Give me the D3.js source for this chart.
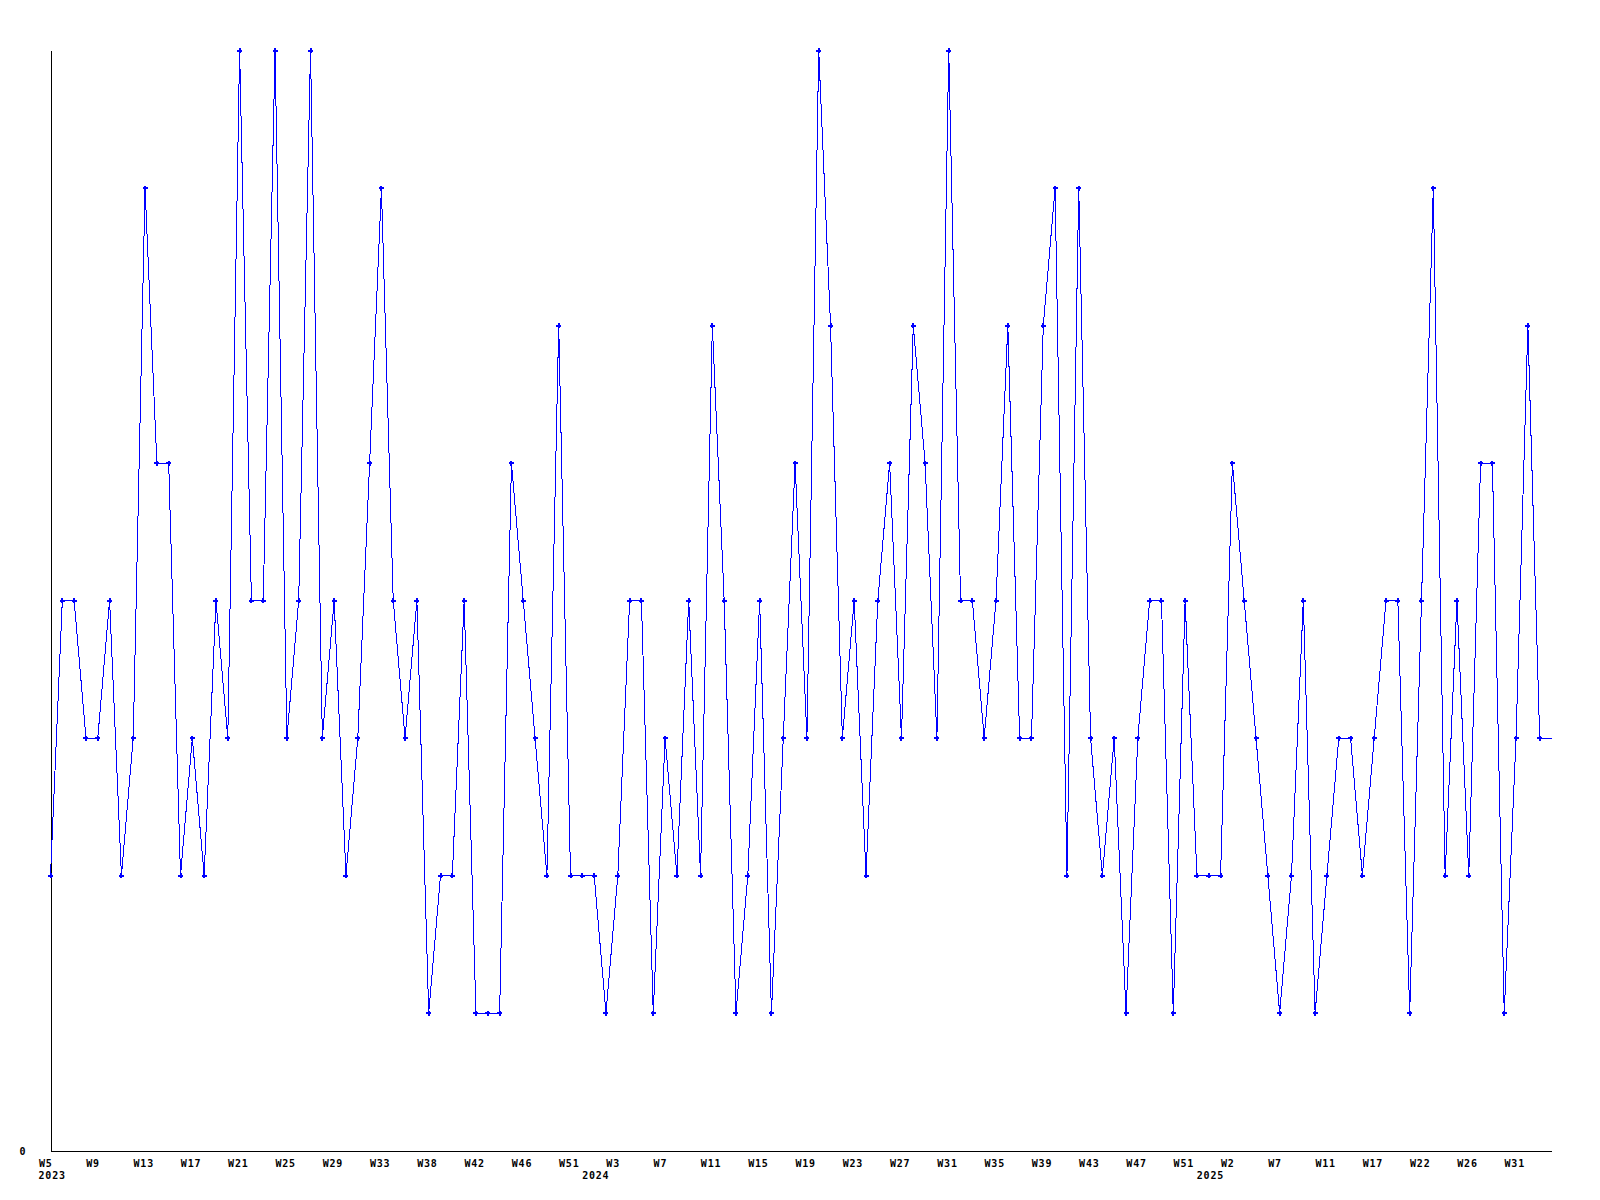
<!DOCTYPE html>
<html>
<head>
<meta charset="utf-8">
<script src="https://cdn.jsdelivr.net/npm/d3@7"></script>
<style>
  html, body { margin: 0; padding: 0; background: #ffffff; }
  svg { display: block; }
  text { font-family: "DejaVu Sans Mono", monospace; font-weight: bold; font-size: 10px; letter-spacing: 0.8px; fill: #000; }
</style>
</head>
<body>
<script>
// ---- data ----
const weekLabels = [
  "W5","W6","W7","W8","W9","W10","W11","W12","W13","W14","W15","W16","W17","W18","W19","W20",
  "W21","W22","W23","W24","W25","W26","W27","W28","W29","W30","W31","W32","W33","W34","W35","W37",
  "W38","W39","W40","W41","W42","W43","W44","W45","W46","W47","W48","W50","W51","W52","W1","W2",
  "W3","W4","W5","W6","W7","W8","W9","W10","W11","W12","W13","W14","W15","W16","W17","W18",
  "W19","W20","W21","W22","W23","W24","W25","W26","W27","W28","W29","W30","W31","W32","W33","W34",
  "W35","W36","W37","W38","W39","W40","W41","W42","W43","W44","W45","W46","W47","W48","W49","W50",
  "W51","W52","W0","W1","W2","W3","W4","W6","W7","W8","W9","W10","W11","W12","W14","W15",
  "W17","W18","W19","W21","W22","W23","W24","W25","W26","W27","W28","W30","W31","W32","W33","W34"
];
const values = [
  2,4,4,3,3,4,2,3,7,5,
  5,2,3,2,4,3,8,4,4,8,
  3,4,8,3,4,2,3,5,7,4,
  3,4,1,2,2,4,1,1,1,5,
  4,3,2,6,2,2,2,1,2,4,
  4,1,3,2,4,2,6,4,1,2,
  4,1,3,5,3,8,6,3,4,2,
  4,5,3,6,5,3,8,4,4,3,
  4,6,3,3,6,7,2,7,3,2,
  3,1,3,4,4,1,4,2,2,2,
  5,4,3,2,1,2,4,1,2,3,
  3,2,3,4,4,1,4,7,2,4,
  2,5,5,1,3,6,3,3
];
const tickStep = 4;
const yearLabels = ["2023", "2024", "2025"];
const yearStartIndex = [0, 46, 98];
const yTicks = [0];
const yMax = 8;

// ---- layout ----
const W = 1600, H = 1200;
const plotLeft = 50, plotRight = 1551, plotTop = 50, plotBottom = 1150;

const svg = d3.select("body").append("svg").attr("width", W).attr("height", H);

const x = d3.scaleLinear().domain([0, values.length - 1]).range([plotLeft, plotRight]);
const y = d3.scaleLinear().domain([0, yMax]).range([plotBottom, plotTop]);

const g = svg.append("g").attr("transform", "translate(0.5,0.5)");

// x axis
const tickIdx = d3.range(0, values.length, tickStep);
const xAxis = g.append("g")
  .attr("transform", `translate(0,${plotBottom})`)
  .call(d3.axisBottom(x).tickValues(tickIdx).tickSize(0).tickSizeOuter(0)
        .tickFormat(i => weekLabels[i]));
xAxis.attr("font-family", null).attr("font-size", null);
xAxis.select(".domain").attr("stroke", "#000").attr("shape-rendering", "crispEdges");
xAxis.selectAll(".tick text")
  .attr("text-anchor", "start")
  .attr("x", -12)
  .attr("y", 16)
  .attr("dy", null);

// year labels
g.append("g").selectAll("text.year")
  .data(yearStartIndex)
  .join("text")
  .attr("class", "year")
  .attr("x", (d) => x(d) - 12)
  .attr("y", plotBottom + 28)
  .text((d, i) => yearLabels[i]);

// y axis
const yAxis = g.append("g")
  .attr("transform", `translate(${plotLeft},0)`)
  .call(d3.axisLeft(y).tickValues(yTicks).tickSize(0).tickSizeOuter(0).tickFormat(d3.format("d")));
yAxis.attr("font-family", null).attr("font-size", null);
yAxis.select(".domain").attr("stroke", "#000").attr("shape-rendering", "crispEdges");
yAxis.selectAll(".tick text")
  .attr("text-anchor", "start")
  .attr("x", -31)
  .attr("y", 4)
  .attr("dy", null);

// line
const line = d3.line().x((d, i) => x(i)).y(d => y(d));
g.append("path")
  .datum(values)
  .attr("fill", "none")
  .attr("stroke", "#0000ff")
  .attr("stroke-width", 1)
  .attr("shape-rendering", "crispEdges")
  .attr("d", line);

// markers (last point has none)
const markerPath = "M-2.5,-1H2.5V1H-2.5Z M-1,-2.5H1V2.5H-1Z";
g.append("g").selectAll("path")
  .data(values.slice(0, values.length - 1))
  .join("path")
  .attr("transform", (d, i) => `translate(${x(i)},${y(d)})`)
  .attr("d", markerPath)
  .attr("fill", "#0000ff")
  .attr("shape-rendering", "crispEdges");
</script>
</body>
</html>
